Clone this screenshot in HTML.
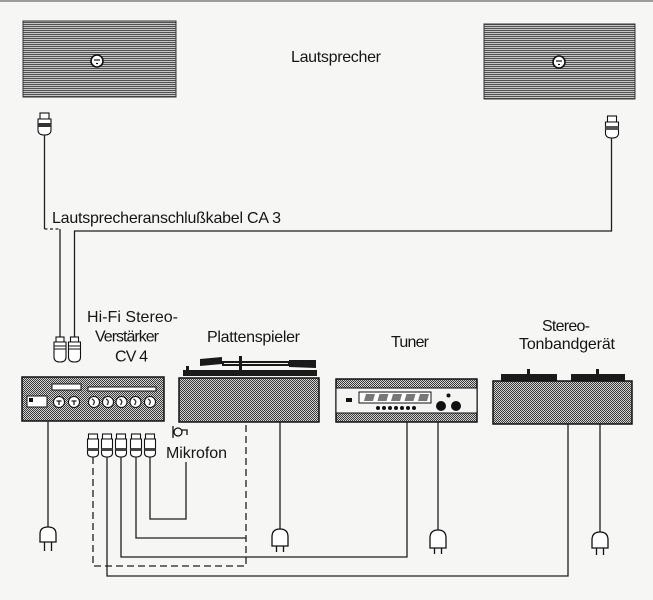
<!DOCTYPE html>
<html>
<head>
<meta charset="utf-8">
<style>
  html, body { margin: 0; padding: 0; background: #f6f7f5; }
  svg { display: block; }
  text { font-family: "Liberation Sans", "DejaVu Sans", sans-serif; fill: #151515; font-size: 16px; }
</style>
</head>
<body>
<svg width="653" height="600" viewBox="0 0 653 600" xmlns="http://www.w3.org/2000/svg">
  <defs>
    <pattern id="ck" width="2" height="2" patternUnits="userSpaceOnUse">
      <rect width="2" height="2" fill="#d2d2d2"/>
      <rect width="1" height="1" fill="#3a3a3a"/>
      <rect x="1" y="1" width="1" height="1" fill="#3a3a3a"/>
    </pattern>
    <pattern id="st" width="4" height="2" patternUnits="userSpaceOnUse">
      <rect width="4" height="2" fill="#c6c6c6"/>
      <rect width="4" height="1" fill="#505050"/>
    </pattern>
  </defs>

  <rect x="0" y="0" width="653" height="600" fill="#f6f7f5"/>
  <rect x="0" y="0" width="653" height="2" fill="#9c9c9c"/>

  <!-- Speakers -->
  <rect x="23" y="21" width="153" height="76" fill="url(#st)" stroke="#333" stroke-width="1"/>
  <circle cx="97" cy="61" r="6" fill="#fff" stroke="#111" stroke-width="1.6"/>
  <line x1="94" y1="60" x2="100" y2="60" stroke="#111" stroke-width="1.2"/>
  <line x1="96" y1="63.5" x2="98" y2="63.5" stroke="#111" stroke-width="1.2"/>

  <rect x="484" y="24" width="151" height="75" fill="url(#st)" stroke="#333" stroke-width="1"/>
  <circle cx="559" cy="62" r="6" fill="#fff" stroke="#111" stroke-width="1.6"/>
  <line x1="556" y1="61" x2="562" y2="61" stroke="#111" stroke-width="1.2"/>
  <line x1="558" y1="64.5" x2="560" y2="64.5" stroke="#111" stroke-width="1.2"/>

  <text x="336" y="62" text-anchor="middle" textLength="90" lengthAdjust="spacing">Lautsprecher</text>

  <!-- Speaker plugs -->
  <g stroke="#111" stroke-width="1.1" fill="#fff">
    <rect x="40" y="113" width="9" height="6"/>
    <path d="M38,119 H51 V130 Q51,135 44.5,135 Q38,135 38,130 Z"/>
    <rect x="607.5" y="116" width="9" height="6"/>
    <path d="M605.5,122 H618.5 V133 Q618.5,138 612,138 Q605.5,138 605.5,133 Z"/>
  </g>
  <rect x="38" y="123" width="13" height="4" fill="#333"/>
  <rect x="605.5" y="126" width="13" height="4" fill="#555"/>

  <!-- Speaker cables -->
  <g stroke="#1e1e1e" stroke-width="1.3" fill="none">
    <line x1="44.5" y1="135" x2="44.5" y2="229"/>
    <line x1="44.5" y1="229" x2="60" y2="229" stroke-dasharray="3,2.5"/>
    <line x1="60" y1="229" x2="60" y2="337"/>
    <path d="M74.5,337 V231 H611.5 V138"/>
  </g>
  <text x="52" y="223" textLength="229" lengthAdjust="spacing">Lautsprecheranschlußkabel CA 3</text>

  <!-- Amplifier labels -->
  <text x="132.5" y="322" text-anchor="middle" textLength="91" lengthAdjust="spacing">Hi-Fi Stereo-</text>
  <text x="127" y="341.5" text-anchor="middle" textLength="64" lengthAdjust="spacing">Verstärker</text>
  <text x="131.5" y="361.5" text-anchor="middle" textLength="33" lengthAdjust="spacing">CV 4</text>

  <!-- Amp speaker plugs -->
  <g stroke="#111" stroke-width="1.1" fill="#fff">
    <rect x="56" y="337" width="8" height="5"/>
    <path d="M54,342 H66 V357 Q66,362 60,362 Q54,362 54,357 Z"/>
    <rect x="70.5" y="337" width="8" height="5"/>
    <path d="M68.5,342 H80.5 V357 Q80.5,362 74.5,362 Q68.5,362 68.5,357 Z"/>
  </g>
  <g stroke="#111" stroke-width="1">
    <line x1="54" y1="346" x2="66" y2="346"/><line x1="54" y1="349" x2="66" y2="349"/>
    <line x1="68.5" y1="346" x2="80.5" y2="346"/><line x1="68.5" y1="349" x2="80.5" y2="349"/>
  </g>

  <!-- Amplifier -->
  <rect x="22" y="377" width="142" height="44" fill="url(#ck)" stroke="#111" stroke-width="1.5"/>
  <g stroke="#111" stroke-width="1" fill="#fff">
    <rect x="52" y="384" width="29" height="6"/>
    <rect x="88" y="387" width="68" height="4"/>
    <rect x="27" y="396" width="20" height="11"/>
    <circle cx="59" cy="402" r="5.5"/>
    <circle cx="74" cy="402" r="5.5"/>
    <circle cx="94" cy="402" r="5.5"/>
    <circle cx="108" cy="402" r="5.5"/>
    <circle cx="121.5" cy="402" r="5.5"/>
    <circle cx="135.5" cy="402" r="5.5"/>
    <circle cx="150" cy="402" r="5.5"/>
  </g>
  <rect x="29" y="398" width="4" height="4" fill="#111"/>
  <g stroke="#111" stroke-width="1.2">
    <line x1="56.5" y1="401" x2="61.5" y2="401"/><line x1="59" y1="401" x2="59" y2="405"/>
    <line x1="71.5" y1="401" x2="76.5" y2="401"/><line x1="74" y1="401" x2="74" y2="405"/>
  </g>
  <g fill="none" stroke="#333" stroke-width="1.3">
    <path d="M92,399 Q96,401 93,405"/>
    <path d="M106,399 Q110,401 107,405"/>
    <path d="M119.5,399 Q123.5,401 120.5,405"/>
    <path d="M133.5,399 Q137.5,401 134.5,405"/>
    <path d="M148,399 Q152,401 149,405"/>
  </g>

  <!-- Turntable -->
  <text x="253.5" y="342" text-anchor="middle" textLength="93" lengthAdjust="spacing">Plattenspieler</text>
  <rect x="183" y="370" width="134" height="6" fill="#1a1a1a"/>
  <rect x="186" y="366" width="3" height="5" fill="#1a1a1a"/>
  <polygon points="200,359 222,357 222,364 200,366" fill="#1a1a1a"/>
  <rect x="222" y="361" width="68" height="5" fill="#1a1a1a"/>
  <line x1="224" y1="363.5" x2="288" y2="363.5" stroke="#f6f7f5" stroke-width="1"/>
  <rect x="239" y="356" width="3" height="14" fill="#1a1a1a"/>
  <polygon points="289,360 316,360 316,368 289,367" fill="#1a1a1a"/>
  <rect x="179" y="378" width="140" height="44" fill="url(#ck)" stroke="#111" stroke-width="1.5"/>

  <!-- Tuner -->
  <text x="410" y="347" text-anchor="middle" textLength="38" lengthAdjust="spacing">Tuner</text>
  <rect x="336" y="379" width="141" height="43" fill="url(#ck)" stroke="#111" stroke-width="1.5"/>
  <rect x="336" y="388" width="141" height="25" fill="#f4f4f2" stroke="#111" stroke-width="1"/>
  <rect x="359" y="392" width="72" height="11" fill="#fff" stroke="#111" stroke-width="1"/>
  <g fill="#777">
    <polygon points="364,401 366,394 375,394 373,401"/>
    <polygon points="377.5,401 379.5,394 388.5,394 386.5,401"/>
    <polygon points="391,401 393,394 402,394 400,401"/>
    <polygon points="404.5,401 406.5,394 415.5,394 413.5,401"/>
    <polygon points="418,401 420,394 429,394 427,401"/>
  </g>
  <g fill="#111">
    <rect x="346" y="398" width="6" height="4"/>
    <circle cx="378" cy="408" r="2"/><circle cx="384" cy="408" r="2"/><circle cx="390" cy="408" r="2"/>
    <circle cx="396" cy="408" r="2"/><circle cx="402" cy="408" r="2"/><circle cx="408" cy="408" r="2"/>
    <circle cx="414" cy="408" r="2"/>
    <circle cx="441" cy="406" r="5"/><circle cx="456" cy="406" r="5"/>
    <circle cx="448.5" cy="395.5" r="2"/>
  </g>

  <!-- Tape deck -->
  <text x="566" y="331" text-anchor="middle" textLength="48" lengthAdjust="spacing">Stereo-</text>
  <text x="567" y="349" text-anchor="middle" textLength="96" lengthAdjust="spacing">Tonbandgerät</text>
  <rect x="501" y="374" width="56" height="7" fill="#1a1a1a"/>
  <rect x="571" y="374" width="54" height="7" fill="#1a1a1a"/>
  <rect x="527" y="369" width="3" height="6" fill="#1a1a1a"/>
  <rect x="596" y="369" width="3" height="6" fill="#1a1a1a"/>
  <rect x="493" y="381" width="139" height="43" fill="url(#ck)" stroke="#111" stroke-width="1.5"/>

  <!-- Microphone -->
  <g stroke="#111" stroke-width="1.3" fill="none">
    <line x1="173" y1="426" x2="173" y2="438"/>
    <circle cx="178" cy="432" r="4"/>
    <path d="M182,430 H187 V435"/>
  </g>
  <text x="166" y="458" textLength="61" lengthAdjust="spacing">Mikrofon</text>

  <!-- RCA plugs -->
  <g stroke="#111" stroke-width="1.1" fill="#fff">
    <rect x="88.5" y="434" width="9" height="5"/>
    <path d="M87.5,439 H98.5 V453 Q98.5,457 93,457 Q87.5,457 87.5,453 Z"/>
    <rect x="102.5" y="434" width="9" height="5"/>
    <path d="M101.5,439 H112.5 V453 Q112.5,457 107,457 Q101.5,457 101.5,453 Z"/>
    <rect x="116.5" y="434" width="9" height="5"/>
    <path d="M115.5,439 H126.5 V453 Q126.5,457 121,457 Q115.5,457 115.5,453 Z"/>
    <rect x="131.5" y="434" width="9" height="5"/>
    <path d="M130.5,439 H141.5 V453 Q141.5,457 136,457 Q130.5,457 130.5,453 Z"/>
    <rect x="145.5" y="434" width="9" height="5"/>
    <path d="M144.5,439 H155.5 V453 Q155.5,457 150,457 Q144.5,457 144.5,453 Z"/>
  </g>
  <g fill="#444">
    <rect x="87.5" y="448" width="11" height="3"/>
    <rect x="101.5" y="448" width="11" height="3"/>
    <rect x="115.5" y="448" width="11" height="3"/>
    <rect x="130.5" y="448" width="11" height="3"/>
    <rect x="144.5" y="448" width="11" height="3"/>
  </g>

  <!-- Signal cables -->
  <g stroke="#1e1e1e" stroke-width="1.3" fill="none">
    <path d="M150,457 V519 H186 V462"/>
    <path d="M136,457 V538 H246"/>
    <path d="M121,457 V557 H407 V422"/>
    <path d="M107,457 V576 H568 V424"/>
    <path d="M93,457 V566 H246 V422" stroke-dasharray="7,4"/>
  </g>

  <!-- Power cords -->
  <g stroke="#1e1e1e" stroke-width="1.3" fill="none">
    <line x1="48" y1="421" x2="48" y2="527"/>
    <line x1="280" y1="422" x2="280" y2="529"/>
    <line x1="438" y1="422" x2="438" y2="530"/>
    <line x1="600" y1="424" x2="600" y2="532"/>
  </g>
  <g stroke="#111" stroke-width="1.3" fill="#fff">
    <path d="M40,542 V534 Q40,527 48,527 Q56,527 56,534 V542 Z"/>
    <path d="M272,546 V537 Q272,529 280,529 Q288,529 288,537 V546 Z"/>
    <path d="M430,548 V538 Q430,530 438,530 Q446,530 446,538 V548 Z"/>
    <path d="M592,548 V540 Q592,532 600,532 Q608,532 608,540 V548 Z"/>
  </g>
  <g stroke="#111" stroke-width="1.3">
    <line x1="44.5" y1="542" x2="44.5" y2="551"/><line x1="51.5" y1="542" x2="51.5" y2="551"/>
    <line x1="276.5" y1="546" x2="276.5" y2="552"/><line x1="283.5" y1="546" x2="283.5" y2="552"/>
    <line x1="434.5" y1="548" x2="434.5" y2="554"/><line x1="441.5" y1="548" x2="441.5" y2="554"/>
    <line x1="596.5" y1="548" x2="596.5" y2="555"/><line x1="603.5" y1="548" x2="603.5" y2="555"/>
  </g>
</svg>
</body>
</html>
